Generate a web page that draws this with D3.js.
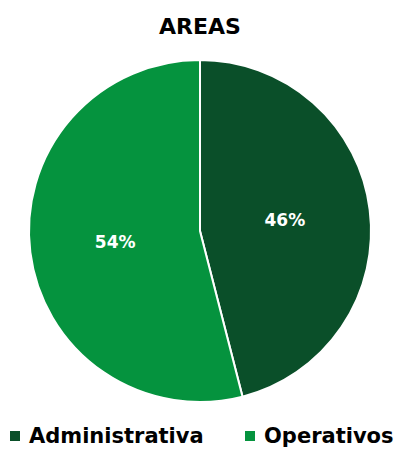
<!DOCTYPE html>
<html><head><meta charset="utf-8">
<script src="https://cdn.jsdelivr.net/npm/d3@7"></script>
<style>body{margin:0;background:#fff}svg{display:block}</style>
</head><body>
<script>
const categories = ["Administrativa", "Operativos"];
const values = [46, 54];
const colors = ["#0a4f29", "#05933e"];
const title = "AREAS";

const W = 400, H = 449;
const svg = d3.select("body").append("svg").attr("width", W).attr("height", H);
const font = "'DejaVu Sans', sans-serif";

svg.append("text").attr("x", 200).attr("y", 34).attr("text-anchor", "middle")
  .attr("font-family", font).attr("font-weight", "bold").attr("font-size", 22)
  .attr("fill", "#000").text(title);

const cx = 200, cy = 231, r = 171;
const pie = d3.pie().sort(null).value(d => d)(values);
const arc = d3.arc().innerRadius(0).outerRadius(r);
const labelArc = d3.arc().innerRadius(r * 0.5).outerRadius(r * 0.5);
const g = svg.append("g").attr("transform", `translate(${cx},${cy})`);
g.selectAll("path").data(pie).join("path")
  .attr("d", arc).attr("fill", (d, i) => colors[i])
  .attr("stroke", "#fff").attr("stroke-width", 2);
g.selectAll("text").data(pie).join("text")
  .attr("transform", d => `translate(${labelArc.centroid(d)})`)
  .attr("text-anchor", "middle").attr("dy", "0.35em")
  .attr("font-family", font).attr("font-weight", "bold").attr("font-size", 17)
  .attr("fill", "#fff").text(d => d.data + "%");

const legendX = [10, 245];
const lg = svg.append("g");
categories.forEach((c, i) => {
  lg.append("rect").attr("x", legendX[i]).attr("y", 431).attr("width", 10).attr("height", 10)
    .attr("fill", colors[i]);
  lg.append("text").attr("x", legendX[i] + 19).attr("y", 443)
    .attr("font-family", font).attr("font-weight", "bold").attr("font-size", 21)
    .attr("fill", "#000").text(c);
});
</script>
</body></html>
